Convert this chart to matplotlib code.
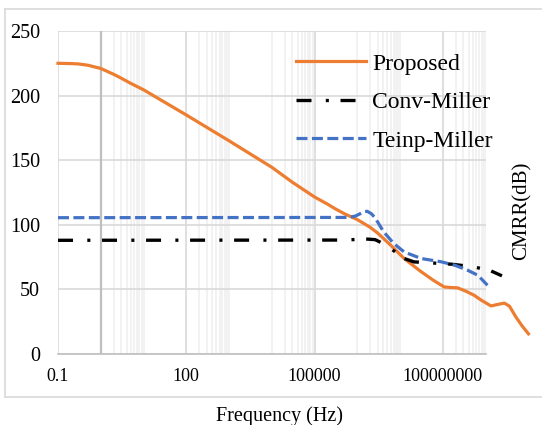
import matplotlib
matplotlib.use("Agg")
import matplotlib.pyplot as plt
from matplotlib.lines import Line2D

plt.rcParams["font.family"] = ["Liberation Serif", "DejaVu Serif"]
plt.rcParams["lines.scale_dashes"] = False

# CMRR vs frequency for the three compensation schemes
prop_f = [0.1, 0.2, 0.3, 0.5, 1, 2, 3, 5, 10, 100, 1e3, 1e4, 3e4, 1e5, 2e5,
          3e5, 5e5, 1e6, 2e6, 3e6, 6e6, 1.24e7, 3e7, 6e7, 1.07e8, 1.5e8,
          2.2e8, 3.5e8, 5.4e8, 8e8, 1.33e9, 2e9, 2.73e9, 3.6e9, 5e9, 7e9, 1e10]
prop_db = [225, 224.8, 224.5, 223.5, 221, 216.5, 213.5, 209.5, 204.5, 185,
           165, 144.5, 133, 121.5, 116, 112.5, 108.5, 104, 98, 93.5, 84.2,
           73.9, 64, 57, 51.9, 51.5, 51.2, 48.5, 45.4, 41.5, 37.2, 38.5, 39.4,
           37, 29, 22, 15.6]

conv_f = [0.1, 5e5, 1.6e6, 2.6e6, 4e6, 6e6, 1.24e7, 2.1e7, 5.4e7, 1.6e8,
          5.4e8, 1.33e9, 2.4e9]
conv_db = [88, 88.2, 89, 88.5, 85.5, 81.7, 73.9, 71.3, 70.5, 69.5, 67.4, 64.3,
           60.5]

teinp_f = [0.1, 5e5, 7e5, 9e5, 1.2e6, 1.45e6, 1.7e6, 2.1e6, 2.5e6, 3e6, 4.1e6,
           7.1e6, 1.24e7, 3.1e7, 9.3e7, 1.9e8, 3.8e8, 6.6e8, 1.1e9]
teinp_db = [105.5, 105.7, 106, 106.8, 108.8, 110.3, 110.4, 108.7, 106, 102,
            94.6, 85.5, 79, 73.9, 71.3, 68.7, 64.8, 60.9, 53.2]

x_ticks = [0.1, 100, 1e5, 1e8]
x_labels = ["0.1", "100", "100000", "100000000"]
y_ticks = [0, 50, 100, 150, 200, 250]

fig = plt.figure(figsize=(5.42, 4.25), dpi=100)
ax = fig.add_axes([58 / 542, 71 / 425, 427.7 / 542, 323 / 425])

# chart frame (right side runs off the canvas)
fl, fb, ft = 4.5 / 542, 28.3 / 425, 415.7 / 425
for xs, ys in [([fl, 1.02], [ft, ft]), ([fl, fl], [fb, ft]), ([fl, 1.02], [fb, fb])]:
    fig.add_artist(Line2D(xs, ys, transform=fig.transFigure, color="#d9d9d9",
                          lw=1.2, zorder=0))

ax.set_xscale("log")
ax.set_xlim(0.1, 1e9)
ax.set_ylim(0, 250)

minor = []
for n in [0, 2, 4, 6, 8]:
    for k in range(1, 11):
        v = k * 10.0 ** n
        if n == 0 and k == 1:
            continue
        if v <= 1e9:
            minor.append(v)
ax.set_xticks(x_ticks)
ax.set_xticklabels(x_labels)
ax.set_xticks(minor, minor=True)
ax.set_yticks(y_ticks)
ax.tick_params(axis="x", which="both", length=0, pad=10, labelsize=13)
ax.tick_params(axis="y", length=0, pad=13, labelsize=14.5)
ax.xaxis.set_minor_formatter(plt.NullFormatter())

ax.grid(True, which="minor", axis="x", color="#f0f0f0", lw=1.2, zorder=0)
ax.grid(True, which="major", axis="both", color="#d9d9d9", lw=1.2, zorder=0)
ax.set_axisbelow(True)
ax.axvline(1, color="#bfbfbf", lw=1.6, zorder=1)

for s in ["top", "right", "left"]:
    ax.spines[s].set_visible(False)
ax.spines["bottom"].set_color("#bfbfbf")
ax.spines["bottom"].set_linewidth(1.2)

ax.plot(prop_f, prop_db, color="#ed7d31", lw=2.3, label="Proposed",
        clip_on=False, zorder=3, solid_joinstyle="round")
ax.plot(conv_f, conv_db, color="black", lw=2.4, label="Conv-Miller",
        linestyle=(0, (10.8, 10.3, 2.2, 8.4)), clip_on=False, zorder=4)
ax.plot(teinp_f, teinp_db, color="#4472c4", lw=2.3, label="Teinp-Miller",
        linestyle=(0, (7.9, 3.2)), clip_on=False, zorder=5)

ax.legend(loc="upper left", bbox_to_anchor=(296 / 542, (425 - 53) / 425),
          bbox_transform=fig.transFigure, frameon=False, fontsize=17,
          handlelength=2.95, handletextpad=0.28, labelspacing=0.72,
          borderpad=0, borderaxespad=0)

fig.text(280 / 542, 3.5 / 425, "Frequency (Hz)", ha="center", va="baseline",
         fontsize=14.5)
fig.text(522 / 542, (425 - 211) / 425, "CMRR(dB)", rotation=90, ha="center",
         va="center", fontsize=15)

fig.savefig("out.png", dpi=100)
